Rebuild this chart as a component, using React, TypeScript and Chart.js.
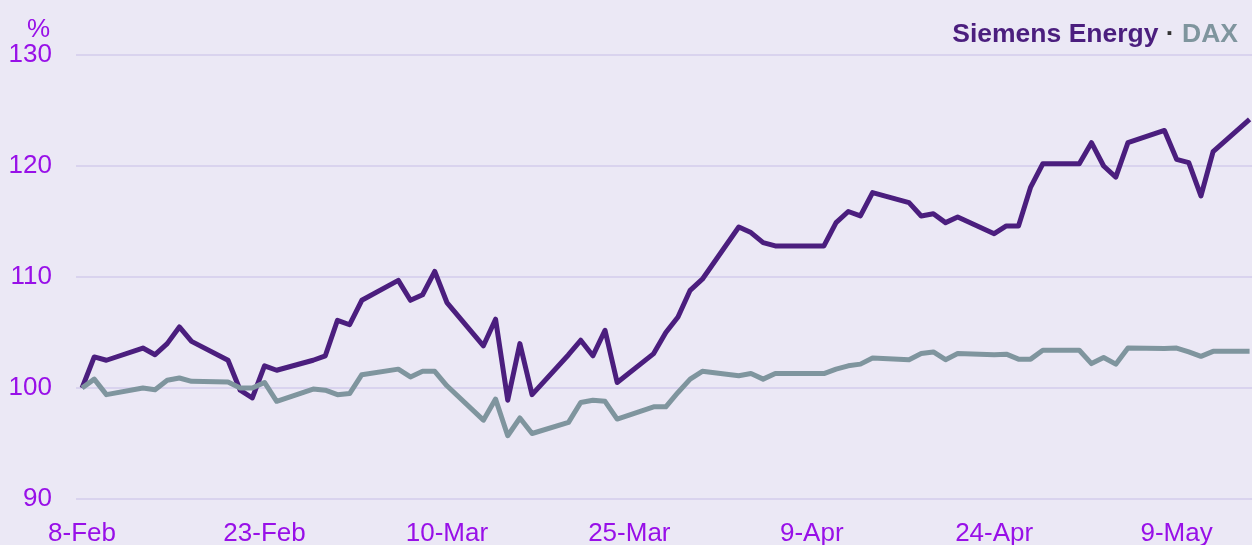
import React, { useEffect, useRef } from "react";
import { Chart, registerables } from "chart.js";

Chart.register(...registerables);

// Days since 8-Feb (trading days)
const days = [0, 1, 2, 5, 6, 7, 8, 9, 12, 13, 14, 15, 16, 19, 20, 21, 22, 23, 26, 27, 28, 29, 30, 33, 34, 35, 36, 37, 40, 41, 42, 43, 44, 47, 48, 49, 50, 51, 54, 55, 56, 57, 58, 61, 62, 63, 64, 65, 68, 69, 70, 71, 72, 75, 76, 77, 78, 79, 82, 83, 84, 85, 86, 89, 90, 91, 92, 93, 96];

const siemensEnergy = [100.0, 102.8, 102.5, 103.6, 103.0, 104.0, 105.5, 104.2, 102.5, 99.8, 99.1, 102.0, 101.6, 102.5, 102.9, 106.1, 105.7, 107.9, 109.7, 107.9, 108.4, 110.5, 107.7, 103.8, 106.2, 98.9, 104.0, 99.4, 103.0, 104.3, 102.9, 105.2, 100.5, 103.1, 105.0, 106.4, 108.8, 109.8, 114.5, 114.0, 113.1, 112.8, 112.8, 112.8, 114.9, 115.9, 115.5, 117.6, 116.7, 115.5, 115.7, 114.9, 115.4, 113.9, 114.6, 114.6, 118.1, 120.2, 120.2, 122.1, 120.0, 119.0, 122.1, 123.2, 120.6, 120.3, 117.3, 121.3, 124.2];

const dax = [100.0, 100.8, 99.4, 100.0, 99.85, 100.7, 100.9, 100.6, 100.55, 100.0, 100.0, 100.5, 98.8, 99.9, 99.8, 99.4, 99.5, 101.2, 101.7, 101.0, 101.5, 101.5, 100.2, 97.1, 99.0, 95.7, 97.3, 95.9, 96.9, 98.7, 98.9, 98.8, 97.2, 98.3, 98.3, 99.6, 100.8, 101.5, 101.1, 101.3, 100.8, 101.3, 101.3, 101.3, 101.7, 102.0, 102.15, 102.7, 102.55, 103.1, 103.25, 102.55, 103.1, 103.0, 103.05, 102.6, 102.6, 103.4, 103.4, 102.2, 102.75, 102.15, 103.6, 103.55, 103.6, 103.25, 102.85, 103.3, 103.3];

const tickDays = [0, 15, 30, 45, 60, 75, 90];
const tickLabels = ["8-Feb", "23-Feb", "10-Mar", "25-Mar", "9-Apr", "24-Apr", "9-May"];
const yTicks = [90, 100, 110, 120, 130];

const BG = "#EBE8F5";
const GRID = "#D9D3EE";
const PURPLE = "#4B1E7E";
const GREY = "#7F959E";
const LABEL = "#9810E8";
const FONT = '"Liberation Sans"';

export default function App() {
  const canvasRef = useRef<HTMLCanvasElement | null>(null);

  useEffect(() => {
    const canvas = canvasRef.current;
    if (!canvas) return;
    const chart = new Chart(canvas, {
      type: "line",
      data: {
        datasets: [
          {
            label: "DAX",
            data: days.map((d, i) => ({ x: d, y: dax[i] })),
            borderColor: GREY,
            borderWidth: 5,
            pointRadius: 0,
            tension: 0,
            borderJoinStyle: "round",
            order: 0,
          },
          {
            label: "Siemens Energy",
            data: days.map((d, i) => ({ x: d, y: siemensEnergy[i] })),
            borderColor: PURPLE,
            borderWidth: 5,
            pointRadius: 0,
            tension: 0,
            borderJoinStyle: "round",
            order: 1,
          },
        ],
      },
      options: {
        animation: false,
        responsive: true,
        maintainAspectRatio: false,
        clip: false,
        layout: { padding: { top: 55, right: 0, bottom: 0, left: 0 } },
        plugins: {
          legend: { display: false },
          tooltip: { enabled: false },
        },
        scales: {
          x: {
            type: "linear",
            min: -0.5,
            max: 96.2,
            grid: { display: false },
            border: { display: false },
            afterBuildTicks: (scale: any) => {
              scale.ticks = tickDays.map((v) => ({ value: v }));
            },
            afterFit: (scale: any) => {
              scale.height = 46;
            },
            ticks: {
              autoSkip: false,
              maxRotation: 0,
              padding: 11,
              color: LABEL,
              font: { family: FONT, size: 26 },
              callback: (v: any) => {
                const idx = tickDays.indexOf(Number(v));
                return idx >= 0 ? tickLabels[idx] : "";
              },
            },
          },
          y: {
            min: 90,
            max: 130,
            afterBuildTicks: (scale: any) => {
              scale.ticks = yTicks.map((v) => ({ value: v }));
            },
            afterFit: (scale: any) => {
              scale.width = 76;
            },
            grid: { color: GRID, lineWidth: 2, drawTicks: false },
            border: { display: false },
            ticks: {
              padding: 24,
              color: LABEL,
              font: { family: FONT, size: 26 },
            },
          },
        },
      },
    });
    return () => chart.destroy();
  }, []);

  return (
    <div
      style={{
        position: "absolute",
        left: 0,
        top: 0,
        width: 1252,
        height: 545,
        background: BG,
        fontFamily: FONT,
        overflow: "hidden",
      }}
    >
      <canvas ref={canvasRef} />
      <div
        style={{
          position: "absolute",
          left: 27,
          top: 15,
          fontSize: 26,
          lineHeight: "26px",
          color: LABEL,
        }}
      >
        %
      </div>
      <div
        style={{
          position: "absolute",
          right: 14,
          top: 20,
          fontSize: 26.5,
          lineHeight: "26px",
          fontWeight: "bold",
          whiteSpace: "nowrap",
        }}
      >
        <span style={{ color: PURPLE }}>Siemens Energy</span>
        <span style={{ color: "#333333" }}> · </span>
        <span style={{ color: GREY }}>DAX</span>
      </div>
    </div>
  );
}
